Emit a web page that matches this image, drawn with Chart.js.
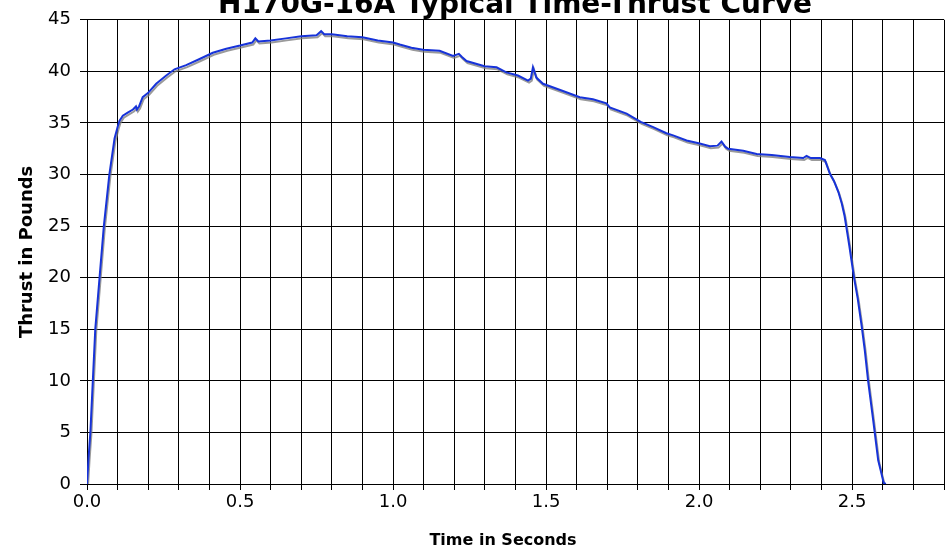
<!DOCTYPE html>
<html>
<head>
<meta charset="utf-8">
<script src="https://cdn.jsdelivr.net/npm/chart.js@4.4.1/dist/chart.umd.min.js"></script>
<style>
  html, body { margin: 0; padding: 0; background: #ffffff; }
  #wrap { width: 951px; height: 552px; }
</style>
</head>
<body>
<div id="wrap"><canvas id="c" width="951" height="552"></canvas></div>
<script>
// ---- data ----
const chartTitle = "H170G-16A Typical Time-Thrust Curve";
const xAxisTitle = "Time in Seconds";
const yAxisTitle = "Thrust in Pounds";

const timeSec = [
  0.000, 0.005, 0.011, 0.019, 0.027, 0.041, 0.055, 0.073, 0.090, 0.100,
  0.106, 0.117, 0.133, 0.150, 0.160, 0.163, 0.170, 0.182, 0.199, 0.226,
  0.259, 0.286, 0.324, 0.368, 0.411, 0.455, 0.500, 0.540, 0.550, 0.560,
  0.600, 0.650, 0.700, 0.750, 0.765, 0.775, 0.800, 0.850, 0.900, 0.950,
  1.000, 1.022, 1.060, 1.098, 1.152, 1.196, 1.215, 1.225, 1.240, 1.299,
  1.338, 1.370, 1.408, 1.441, 1.450, 1.457, 1.468, 1.490, 1.555, 1.610,
  1.653, 1.697, 1.708, 1.763, 1.809, 1.850, 1.893, 1.915, 1.959, 2.002,
  2.035, 2.060, 2.073, 2.085, 2.095, 2.144, 2.188, 2.237, 2.296, 2.340,
  2.351, 2.365, 2.395, 2.411, 2.427, 2.440, 2.455, 2.466, 2.475, 2.482,
  2.490, 2.498, 2.506, 2.518, 2.531, 2.541, 2.552, 2.569, 2.585, 2.594,
  2.603, 2.610
];
const thrustLb = [
  0.0, 2.5, 5.0, 10.0, 15.0, 20.0, 25.0, 30.0, 33.5, 34.6,
  35.2, 35.7, 36.0, 36.3, 36.6, 36.3, 36.6, 37.5, 37.9, 38.8,
  39.6, 40.2, 40.6, 41.2, 41.8, 42.2, 42.5, 42.8, 43.2, 42.9,
  43.0, 43.2, 43.4, 43.5, 43.9, 43.6, 43.6, 43.4, 43.3, 43.0,
  42.8, 42.6, 42.3, 42.1, 42.0, 41.5, 41.7, 41.4, 41.0, 40.5,
  40.4, 39.9, 39.6, 39.1, 39.3, 40.4, 39.4, 38.8, 38.1, 37.5,
  37.3, 36.9, 36.5, 35.9, 35.1, 34.6, 34.0, 33.8, 33.3, 33.0,
  32.75, 32.8, 33.2, 32.7, 32.5, 32.3, 32.0, 31.9, 31.7, 31.6,
  31.8, 31.6, 31.6, 31.4, 30.1, 29.4, 28.3, 27.2, 26.0, 24.7,
  23.2, 21.6, 20.0, 18.0, 15.3, 13.0, 10.0, 6.1, 2.3, 1.2,
  0.1, 0.0
];
const xTickLabels = ["0.0", "0.5", "1.0", "1.5", "2.0", "2.5"];
const xMin = 0, xMax = 2.8, xStep = 0.1;
const yMin = 0, yMax = 45, yStep = 5;

// ---- chart ----
const points = timeSec.map((t, i) => ({ x: t, y: thrustLb[i] }));
const FAMILY = '"DejaVu Sans", Verdana, sans-serif';

const textPlugin = {
  id: 'extraText',
  afterDraw(chart) {
    const ctx = chart.ctx;
    ctx.save();
    ctx.fillStyle = '#000';
    ctx.textAlign = 'center';
    ctx.textBaseline = 'alphabetic';
    ctx.font = 'bold 28px ' + FAMILY;
    ctx.fillText(chartTitle, 515, 13);
    ctx.textBaseline = 'middle';
    ctx.font = 'bold 16px ' + FAMILY;
    ctx.fillText(xAxisTitle, 503, 541);
    ctx.restore();
  }
};

const shadowPlugin = {
  id: 'lineShadow',
  beforeDatasetDraw(chart) {
    const ctx = chart.ctx;
    ctx.save();
    ctx.shadowColor = 'rgba(120,120,120,0.75)';
    ctx.shadowOffsetX = 1;
    ctx.shadowOffsetY = 2;
    ctx.shadowBlur = 0;
  },
  afterDatasetDraw(chart) {
    chart.ctx.restore();
  }
};

const tickFont = { family: FAMILY, size: 18 };

new Chart(document.getElementById('c'), {
  type: 'line',
  data: {
    datasets: [{
      label: 'Thrust',
      data: points,
      borderColor: '#1733d9',
      borderWidth: 2,
      pointRadius: 0,
      tension: 0,
      fill: false
    }]
  },
  options: {
    responsive: false,
    animation: false,
    devicePixelRatio: 1,
    layout: { padding: { top: 15, right: 7, left: 0, bottom: 0 } },
    plugins: {
      legend: { display: false },
      tooltip: { enabled: false },
      title: { display: false }
    },
    scales: {
      x: {
        type: 'linear',
        min: xMin, max: xMax,
        afterFit(scale) { scale.height = 68; },
        grid: { color: '#000', lineWidth: 1, tickLength: 6, drawTicks: true },
        border: { color: '#000', width: 1 },
        ticks: {
          stepSize: xStep,
          autoSkip: false,
          maxRotation: 0,
          color: '#000',
          font: tickFont,
          padding: 2,
          callback(value) {
            const s = Number(value).toFixed(1);
            return xTickLabels.includes(s) ? s : '';
          }
        },
        title: { display: false }
      },
      y: {
        type: 'linear',
        min: yMin, max: yMax,
        afterFit(scale) { scale.width = 87; },
        grid: { color: '#000', lineWidth: 1, tickLength: 7, drawTicks: true },
        border: { color: '#000', width: 1 },
        ticks: {
          stepSize: yStep,
          color: '#000',
          font: tickFont,
          padding: 9
        },
        title: {
          display: true,
          text: yAxisTitle,
          color: '#000',
          font: { family: FAMILY, size: 18, weight: 'bold' },
          padding: { top: 17, bottom: 0 }
        }
      }
    }
  },
  plugins: [textPlugin, shadowPlugin]
});
</script>
</body>
</html>
